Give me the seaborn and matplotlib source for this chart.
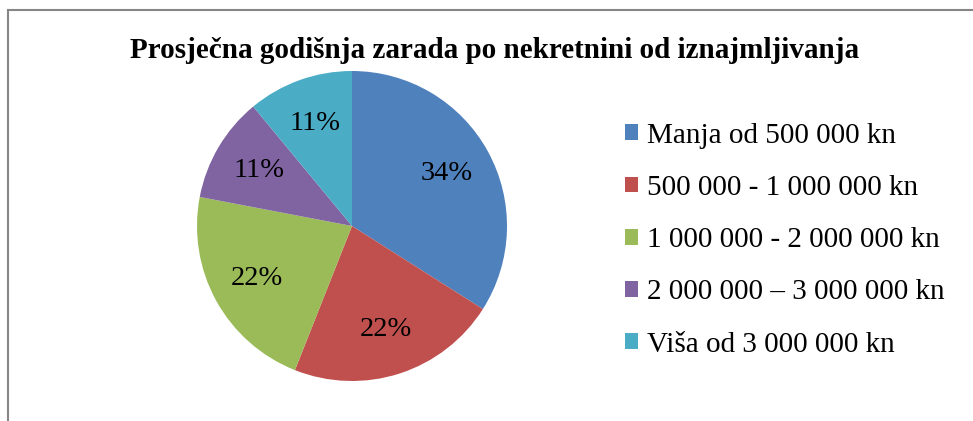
import matplotlib
matplotlib.use("Agg")
import matplotlib.pyplot as plt
import matplotlib.patches as patches
import seaborn as sns

categories = ["Manja od 500 000 kn", "500 000 - 1 000 000 kn",
              "1 000 000 - 2 000 000 kn", "2 000 000 \u2013 3 000 000 kn",
              "Vi\u0161a od 3 000 000 kn"]
shares = [34, 22, 22, 11, 11]
colors = ["#4F81BD", "#C0504D", "#9BBB59", "#8064A2", "#4BACC6"]
title = "Prosje\u010dna godi\u0161nja zarada po nekretnini od iznajmljivanja"

sns.set_theme(style="white")
plt.rcParams["font.family"] = ["Liberation Serif", "DejaVu Serif"]
plt.rcParams["text.color"] = "black"

W, H = 973, 421
fig = plt.figure(figsize=(W / 100, H / 100), dpi=100)

# chart frame (right and bottom edges lie outside the picture)
fig.patches.append(patches.Rectangle((8 / W, -0.1), 2, (H - 10) / H + 0.1,
                                     transform=fig.transFigure, fill=False,
                                     edgecolor="#868686", lw=1.5))

cx, cy, r = 352, 226, 155
ax = fig.add_axes([(cx - r) / W, (H - cy - r) / H, 2 * r / W, 2 * r / H])
wedges, texts, autotexts = ax.pie(shares, colors=colors, startangle=90,
                                  counterclock=False, radius=1,
                                  wedgeprops=dict(linewidth=0),
                                  autopct=lambda p: f"{p:.0f}%", pctdistance=0.70,
                                  textprops=dict(fontsize=20.5, color="black"))
ax.set_xlim(-1, 1)
ax.set_ylim(-1, 1)
ax.set_aspect("equal")
ax.axis("off")

fig.text(495 / W, 1 - 51 / H, title, ha="center", va="center",
         fontsize=21, fontweight="bold", color="black")

fig.legend(wedges, categories, loc="upper left",
           bbox_to_anchor=(613 / W, 1 - 111 / H), frameon=False,
           fontsize=21, handlelength=0.45, handleheight=0.45,
           handletextpad=0.3, labelspacing=0.9, borderaxespad=0,
           labelcolor="black")

fig.savefig("out.png", dpi=100)
